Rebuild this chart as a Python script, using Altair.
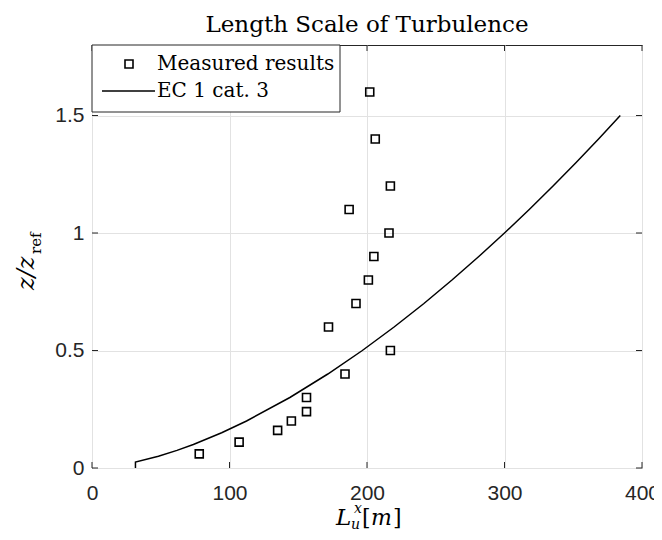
import altair as alt
import pandas as pd

# Measured results (L_u^x in m, z/z_ref)
meas_L = [78, 107, 135, 145, 156, 156, 184, 217, 172, 192, 201, 205, 216, 187, 217, 206, 202]
meas_z = [0.06, 0.11, 0.16, 0.2, 0.24, 0.3, 0.4, 0.5, 0.6, 0.7, 0.8, 0.9, 1.0, 1.1, 1.2, 1.4, 1.6]

# EC 1 cat. 3 curve
ec_L = [31.6, 31.6, 48.3, 61.8, 73.7, 94.3, 112.4, 143.9, 171.5, 196.6, 219.7, 241.4, 261.8,
        281.3, 300.0, 318.0, 335.3, 352.1, 368.4, 384.2]
ec_z = [0.0, 0.025, 0.05, 0.075, 0.1, 0.15, 0.2, 0.3, 0.4, 0.5, 0.6, 0.7, 0.8,
        0.9, 1.0, 1.1, 1.2, 1.3, 1.4, 1.5]

x_ticks = [0, 100, 200, 300, 400]
y_ticks = [0, 0.5, 1, 1.5]

title_text = "Length Scale of Turbulence"
legend_labels = ["Measured results", "EC 1 cat. 3"]

W, H = 550, 423
INK = "#262626"
SERIF = "DejaVu Serif"
SANS = "Liberation Sans"

xs = alt.Scale(domain=[0, 400], nice=False, zero=False)
ys = alt.Scale(domain=[0, 1.8], nice=False, zero=False)

xaxis = alt.Axis(values=x_ticks, title=None, grid=True, gridColor="#e2e2e2", gridWidth=1,
                 tickSize=0, domain=False, labelFont=SANS, labelFontSize=21, labelColor=INK,
                 labelPadding=14, labelFlush=False, labelOverlap=False, labelBound=False)
yaxis = alt.Axis(values=y_ticks, title=None, grid=True, gridColor="#e2e2e2", gridWidth=1,
                 tickSize=0, domain=False, labelFont=SANS, labelFontSize=21, labelColor=INK,
                 labelPadding=8, format="~g", labelOverlap=False, labelBound=False)

meas = pd.DataFrame({"L": meas_L, "z": meas_z})
ec = pd.DataFrame({"L": ec_L, "z": ec_z, "i": list(range(len(ec_L)))})
xt = pd.DataFrame({"L": x_ticks})
yt = pd.DataFrame({"z": y_ticks})
one = pd.DataFrame({"a": [0]})

X = alt.X("L:Q", scale=xs, axis=xaxis)
Y = alt.Y("z:Q", scale=ys, axis=yaxis)

line = alt.Chart(ec).mark_line(color="black", strokeWidth=1.5).encode(x=X, y=Y, order="i:Q")
pts = alt.Chart(meas).mark_point(shape="square", filled=False, size=64, strokeWidth=1.6,
                                 color="black", opacity=1).encode(x=X, y=Y)

tick_b = alt.Chart(xt).mark_rule(color=INK).encode(x=X, y=alt.value(H), y2=alt.value(H - 6))
tick_t = alt.Chart(xt).mark_rule(color=INK).encode(x=X, y=alt.value(0), y2=alt.value(6))
tick_l = alt.Chart(yt).mark_rule(color=INK).encode(y=Y, x=alt.value(0), x2=alt.value(6))
tick_r = alt.Chart(yt).mark_rule(color=INK).encode(y=Y, x=alt.value(W - 6), x2=alt.value(W))

# legend
leg_box = alt.Chart(one).mark_rect(fill="white", stroke=INK, strokeWidth=1).encode(
    x=alt.value(0), x2=alt.value(248), y=alt.value(0), y2=alt.value(67))
leg_sq = alt.Chart(one).mark_point(shape="square", filled=False, size=64, strokeWidth=1.6,
                                   color="black", opacity=1).encode(x=alt.value(37), y=alt.value(19))
leg_ln = alt.Chart(one).mark_rule(color="black", strokeWidth=1.5).encode(
    x=alt.value(10), x2=alt.value(63), y=alt.value(46))
leg_t1 = alt.Chart(one).mark_text(text=legend_labels[0], font=SERIF, fontSize=20, color="black",
                                  align="left", baseline="middle").encode(x=alt.value(65), y=alt.value(19))
leg_t2 = alt.Chart(one).mark_text(text=legend_labels[1], font=SERIF, fontSize=20, color="black",
                                  align="left", baseline="middle").encode(x=alt.value(65), y=alt.value(46))

# title
title = alt.Chart(one).mark_text(text=title_text, font=SERIF, fontSize=23, color="black",
                                 align="center", baseline="alphabetic").encode(
    x=alt.value(W / 2), y=alt.value(-13))

# x label  L_u^x [m]
xl_L = alt.Chart(one).mark_text(text="L", font=SERIF, fontSize=23, fontStyle="italic", color="black",
                                align="left", baseline="alphabetic").encode(x=alt.value(244), y=alt.value(480))
xl_sup = alt.Chart(one).mark_text(text="x", font=SERIF, fontSize=14, fontStyle="italic", color="black",
                                  align="left", baseline="alphabetic").encode(x=alt.value(262), y=alt.value(468))
xl_sub = alt.Chart(one).mark_text(text="u", font=SERIF, fontSize=14, fontStyle="italic", color="black",
                                  align="left", baseline="alphabetic").encode(x=alt.value(259), y=alt.value(484))
xl_b1 = alt.Chart(one).mark_text(text="[", font=SERIF, fontSize=22, color="black",
                                 align="left", baseline="alphabetic").encode(x=alt.value(270), y=alt.value(480))
xl_m = alt.Chart(one).mark_text(text="m", font=SERIF, fontSize=22, fontStyle="italic", color="black",
                                align="left", baseline="alphabetic").encode(x=alt.value(279), y=alt.value(480))
xl_b2 = alt.Chart(one).mark_text(text="]", font=SERIF, fontSize=22, color="black",
                                 align="left", baseline="alphabetic").encode(x=alt.value(301), y=alt.value(480))

# y label  z / z_ref
yl_main = alt.Chart(one).mark_text(text="z/z", font=SERIF, fontSize=24, fontStyle="italic", color="black",
                                   angle=270, align="left", baseline="alphabetic").encode(
    x=alt.value(-58), y=alt.value(245))
yl_sub = alt.Chart(one).mark_text(text="ref", font=SERIF, fontSize=15, color="black",
                                  angle=270, align="left", baseline="alphabetic").encode(
    x=alt.value(-51), y=alt.value(209))

chart = alt.layer(
    line, pts, tick_b, tick_t, tick_l, tick_r,
    leg_box, leg_sq, leg_ln, leg_t1, leg_t2,
    title, xl_L, xl_sup, xl_sub, xl_b1, xl_m, xl_b2, yl_main, yl_sub
).properties(
    width=W, height=H,
    autosize=alt.AutoSizeParams(type="none"),
    padding={"left": 84, "top": 37, "right": 12, "bottom": 64},
    background="white",
).configure_view(stroke=INK, strokeWidth=1)

chart.save("out.html", embed_options={"renderer": "svg", "actions": False})
